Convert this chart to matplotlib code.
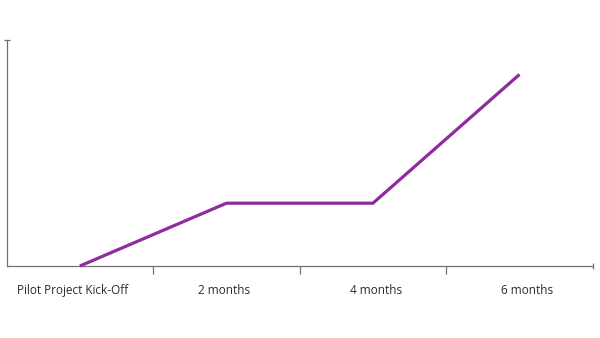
import matplotlib.pyplot as plt
import matplotlib.ticker as ticker

# data
categories = ['Pilot Project Kick-Off', '2 months', '4 months', '6 months']
values = [0, 1, 1, 3.05]
y_max = 3.6

LINE = '#8E2B9D'
AXIS = '#707070'
TEXT = '#2b2b2b'

plt.rcParams['font.family'] = ['Open Sans', 'DejaVu Sans']

fig = plt.figure(figsize=(6, 3.38), dpi=100)
ax = fig.add_axes([0.011, 0.213, 0.977, 0.669])

x = list(range(len(categories)))
ax.plot(x, values, color=LINE, linewidth=2.3, solid_capstyle='butt', clip_on=False, zorder=3)

ax.set_xlim(-0.5, len(categories) - 0.5)
ax.set_ylim(0, y_max)

for s in ['top', 'right']:
    ax.spines[s].set_visible(False)
for s in ['left', 'bottom']:
    ax.spines[s].set_color(AXIS)
    ax.spines[s].set_linewidth(0.9)

# boundary ticks (major) + category labels (minor, spread a bit wider like the original)
label_pos = [i * 1.034 - 0.05 for i in x]
ax.xaxis.set_major_locator(ticker.FixedLocator([i + 0.5 for i in x]))
ax.xaxis.set_major_formatter(ticker.NullFormatter())
ax.xaxis.set_minor_locator(ticker.FixedLocator(label_pos))
ax.xaxis.set_minor_formatter(ticker.FixedFormatter(categories))
ax.tick_params(axis='x', which='major', direction='out', length=6, width=0.9, color=AXIS)
ax.tick_params(axis='x', which='minor', length=0, pad=13, labelsize=8.5, labelcolor=TEXT)
last = ax.xaxis.get_major_ticks()[-1]
last.tick1line.set_marker('|')
last.tick1line.set_markersize(4)

ax.set_yticks([y_max])
ax.set_yticklabels([])
ax.tick_params(axis='y', direction='inout', length=4, width=0.9, color=AXIS)
last_y = ax.yaxis.get_major_ticks()[-1]
last_y.tick1line.set_marker('_')

fig.savefig('out.png', dpi=100)
